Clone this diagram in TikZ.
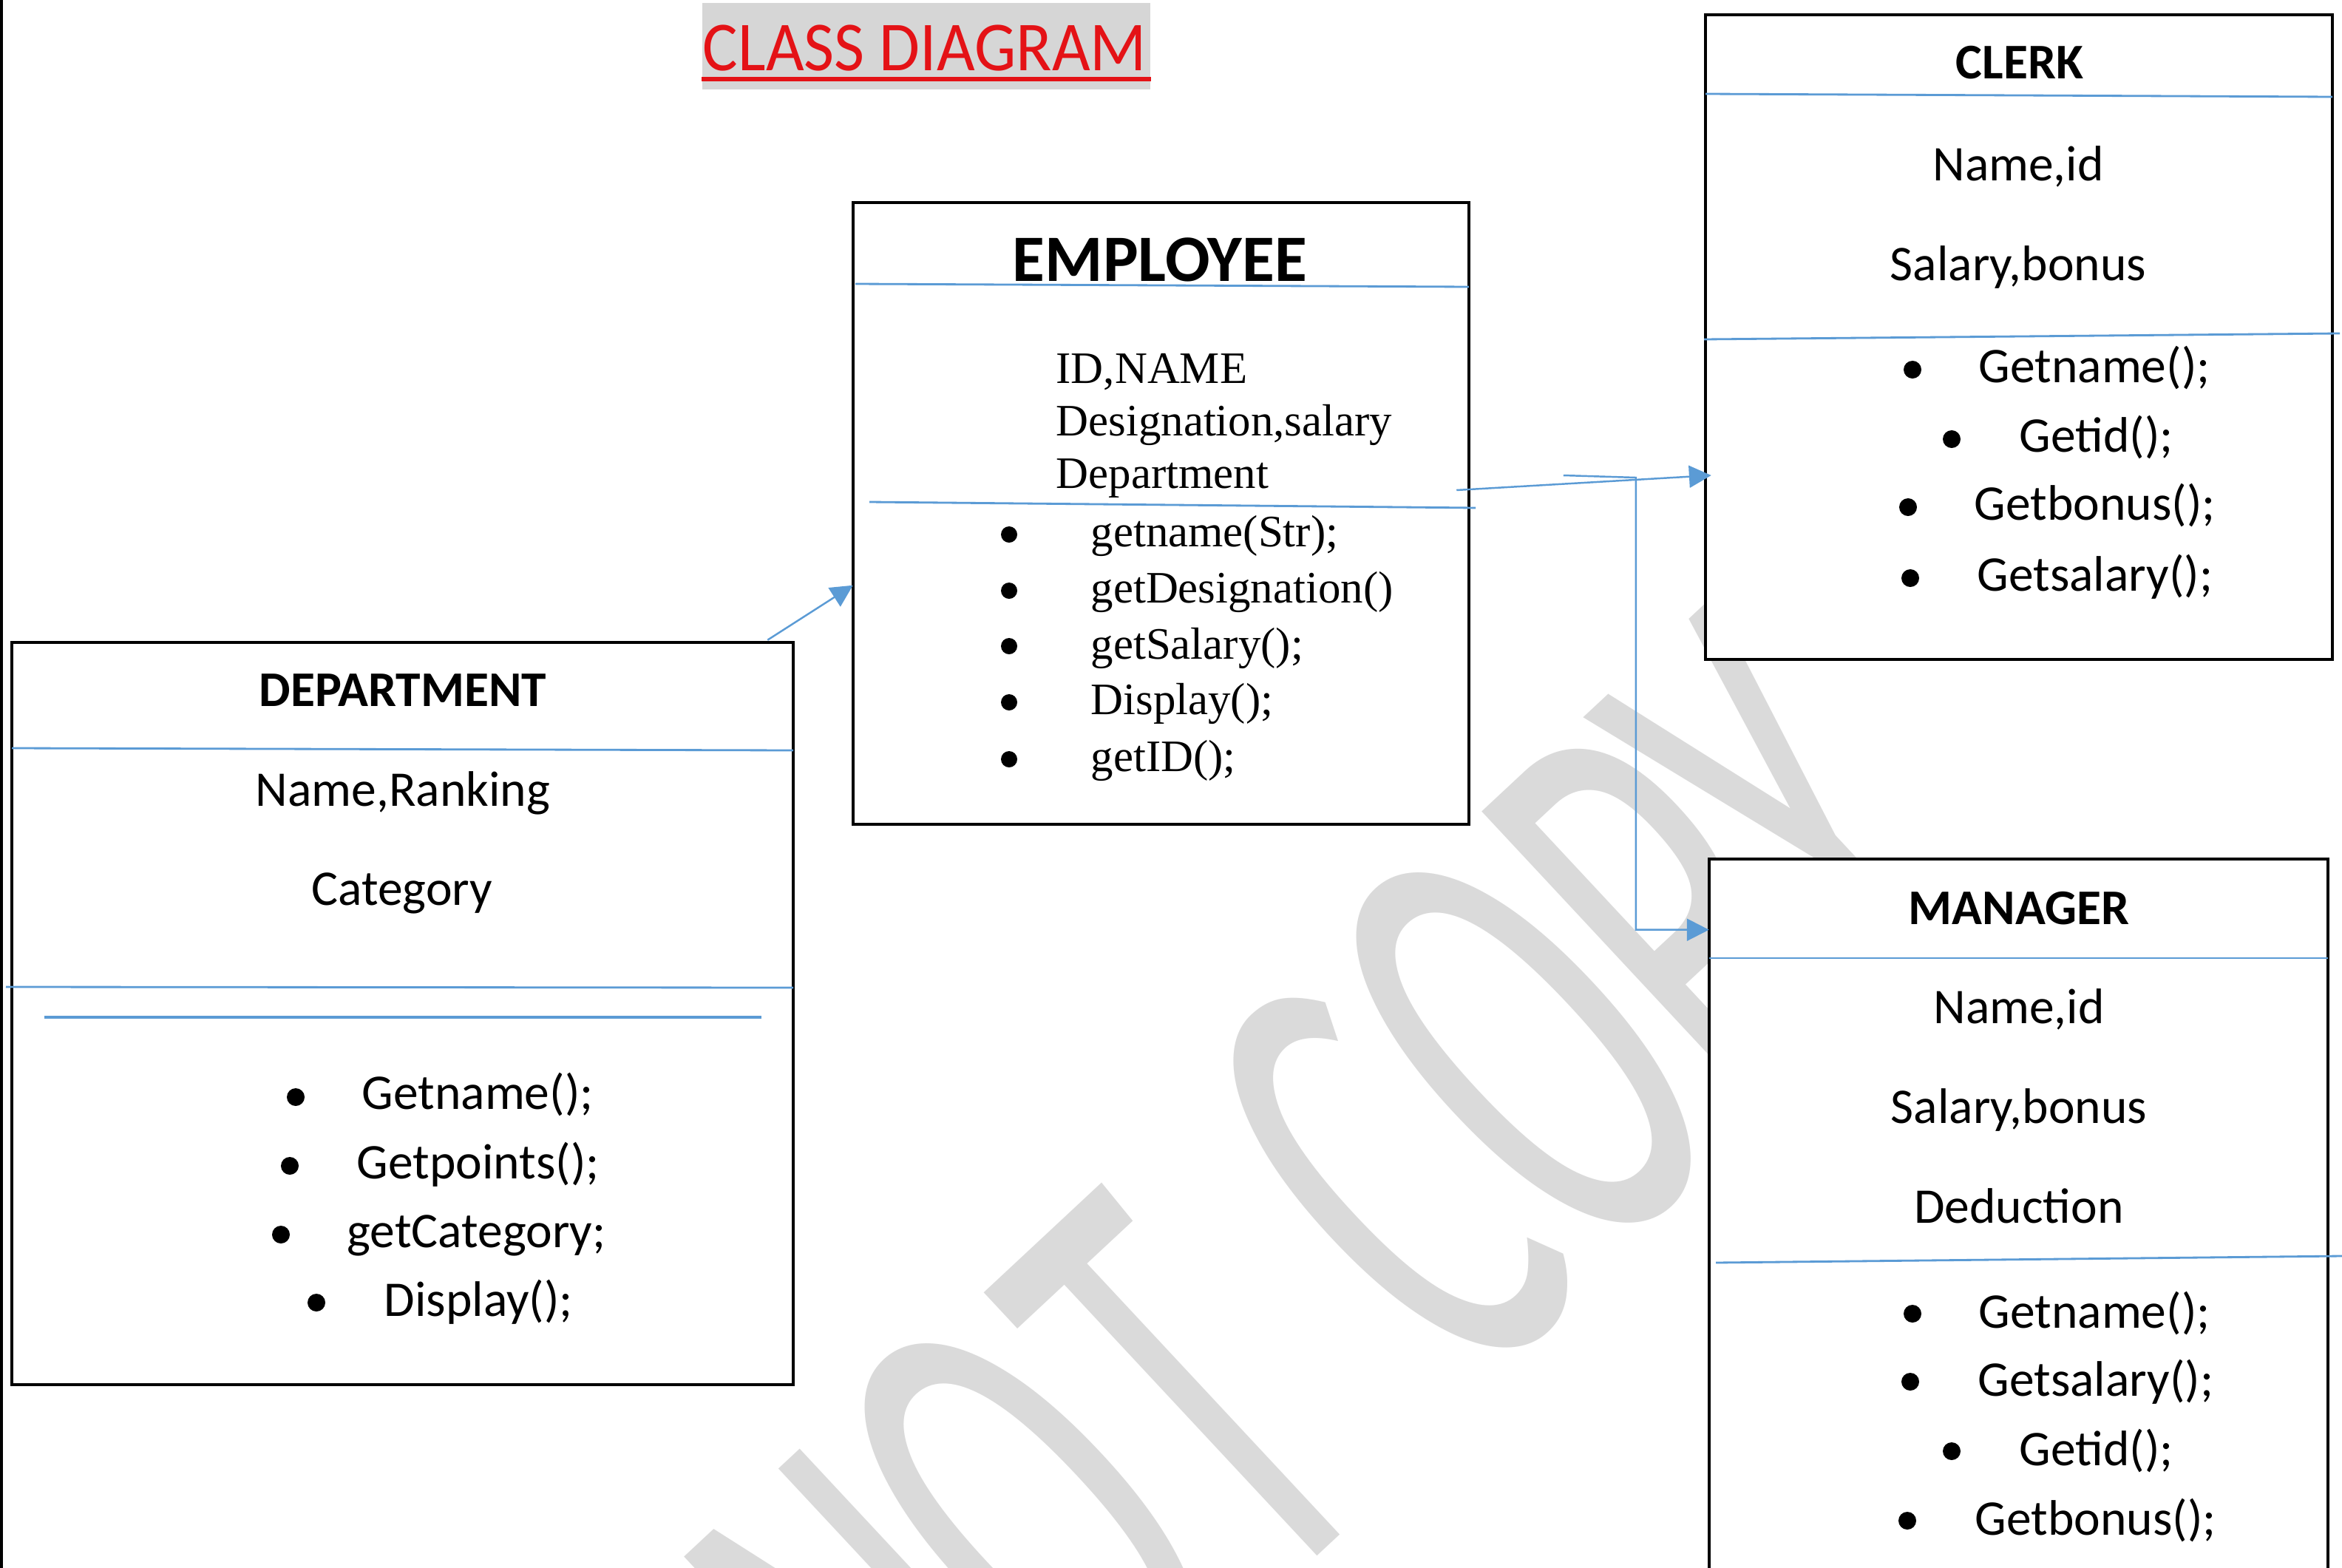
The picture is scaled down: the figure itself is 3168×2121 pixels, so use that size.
\documentclass[tikz,border=0pt]{standalone}
\usepackage{fontspec}
\usetikzlibrary{arrows.meta,calc}
\newfontfamily\calfont{Carlito}
\newfontfamily\tmsfont{Liberation Serif}
\newfontfamily\wmfont{Fira Sans}
\definecolor{sepblue}{RGB}{91,155,213}
\definecolor{wmgrey}{RGB}{218,218,218}
\definecolor{ttlred}{RGB}{228,18,22}
\definecolor{ttlbg}{RGB}{214,214,214}
\tikzset{
  cbox/.style={draw=black, line width=1.1pt, fill=white, rectangle, inner sep=0pt, outer sep=0pt},
  sepline/.style={draw=sepblue, line width=0.8pt},
  conn/.style={draw=sepblue, line width=0.7pt, -{Triangle[length=8.5pt,width=8.5pt]}},
  hdr/.style={font=\calfont\bfseries\fontsize{19.2}{23}\selectfont, anchor=base, inner sep=0pt},
  attr/.style={font=\calfont\fontsize{19.2}{23}\selectfont, anchor=base, inner sep=0pt},
  meth/.style={font=\calfont\fontsize{19.2}{23}\selectfont, anchor=base west, inner sep=0pt},
  tattr/.style={font=\tmsfont\fontsize{17.3}{20}\selectfont, anchor=base west, inner sep=0pt},
  bul/.style={fill=black, circle, inner sep=0pt, minimum size=0.24cm},
  tbul/.style={fill=black, circle, inner sep=0pt, minimum size=0.22cm},
  wml/.style={rotate=43, anchor=base, inner sep=0pt, text=wmgrey, font=\wmfont\fontsize{126}{130}\selectfont},
}
\newcommand{\wmglyph}[1]{\scalebox{1}[1.86]{#1}}
\begin{document}
\begin{tikzpicture}[x=0.01cm, y=-0.01cm]
\fill[white] (0,0) rectangle (3168,2121);
\useasboundingbox (0,0) rectangle (3168,2121);
\clip (0,0) rectangle (3168,2121);

% watermark
\node[wml] (w1) at (1391,2448) {\wmglyph{N}};
\node[wml] (w2) at (1590,2262) {\wmglyph{O}};
\node[wml] (w3) at (1797,2090) {\wmglyph{T}};
\node[wml] (w4) at (2067,1814) {\wmglyph{C}};
\node[wml] (w5) at (2255,1625) {\wmglyph{O}};
\node[wml] (w6) at (2454,1456) {\wmglyph{P}};
\node[wml] (w7) at (2617,1304) {\wmglyph{Y}};

% left page edge
\draw[line width=1.1pt] (2,0) -- (2,2121);

% title
\node[fill=ttlbg, minimum width=6.06cm, minimum height=1.17cm, inner sep=0pt] (ttlbg) at (1253,62.5) {};
\node[anchor=base, inner sep=0pt, text=ttlred, font=\calfont\fontsize{27}{30}\selectfont] (title) at (1251,95)
  {\scalebox{0.94}[1]{CLASS DIAGRAM}};
\draw[ttlred, line width=1.6pt] ($(ttlbg.west)+(0,44.5)$) -- ($(ttlbg.east)+(0,44.5)$);

% boxes
\node[cbox, minimum width=10.57cm, minimum height=10.04cm] (dept) at (544.5,1371) {};
\node[cbox, minimum width=8.33cm, minimum height=8.41cm] (emp) at (1570.5,694.5) {};
\node[cbox, minimum width=8.48cm, minimum height=8.72cm] (clerk) at (2731,456) {};
\node[cbox, minimum width=8.37cm, minimum height=10.38cm] (mgr) at (2730.5,1681) {};

% separators
\draw[sepline] (16,1012) -- (1073,1015);
\draw[sepline] (8,1335) -- (1073,1336);
\draw[sepblue, line width=1.3pt] (60,1376) -- (1030,1376);
\draw[sepline] (1157,384) -- (1987,388);
\draw[sepline] (1176,679) -- (1996,687);
\draw[sepline] (2307,127) -- (3155,131);
\draw[sepline] (2305,459) -- (3165,451);
\draw[sepline] (2312,1296) -- (3149,1296);
\draw[sepline] (2321,1708) -- (3168,1699);

% DEPARTMENT
\node[hdr] (dh) at (545,955) {DEPARTMENT};
\node[attr] (da1) at (545,1090) {Name,Ranking};
\node[attr] (da2) at (544,1224) {Category};
\node[bul] (db1) at (400,1484) {};
\node[meth] (dm1) at (489,1500) {Getname();};
\node[bul] (db2) at (392,1577) {};
\node[meth] (dm2) at (482,1594) {Getpoints();};
\node[bul] (db3) at (380,1670) {};
\node[meth] (dm3) at (469,1687) {getCategory;};
\node[bul] (db4) at (428,1762) {};
\node[meth] (dm4) at (519,1780) {Display();};

% EMPLOYEE
\node[hdr, font=\calfont\bfseries\fontsize{25.5}{30}\selectfont] (eh) at (1569,380) {EMPLOYEE};
\node[tattr] (ea1) at (1428,518) {ID,NAME};
\node[tattr] (ea2) at (1428,589) {Designation,salary};
\node[tattr] (ea3) at (1428,660) {Department};
\node[tbul] (eb1) at (1365,723) {};
\node[tattr] (em1) at (1475,739) {getname(Str);};
\node[tbul] (eb2) at (1365,799) {};
\node[tattr] (em2) at (1475,815) {getDesignation()};
\node[tbul] (eb3) at (1365,874) {};
\node[tattr] (em3) at (1475,891) {getSalary();};
\node[tbul] (eb4) at (1365,950) {};
\node[tattr] (em4) at (1475,966) {Display();};
\node[tbul] (eb5) at (1365,1027) {};
\node[tattr] (em5) at (1475,1043) {getID();};

% CLERK
\node[hdr] (ch) at (2732,106) {CLERK};
\node[attr] (ca1) at (2730,244) {Name,id};
\node[attr] (ca2) at (2730,379) {Salary,bonus};
\node[bul] (cb1) at (2587,500) {};
\node[meth] (cm1) at (2676,517) {Getname();};
\node[bul] (cb2) at (2640,594) {};
\node[meth] (cm2) at (2731,611) {Getid();};
\node[bul] (cb3) at (2581,686) {};
\node[meth] (cm3) at (2670,703) {Getbonus();};
\node[bul] (cb4) at (2584,782) {};
\node[meth] (cm4) at (2674,799) {Getsalary();};

% MANAGER
\node[hdr] (mh) at (2731,1250) {MANAGER};
\node[attr] (ma1) at (2731,1384) {Name,id};
\node[attr] (ma2) at (2731,1519) {Salary,bonus};
\node[attr] (ma3) at (2731,1654) {Deduction};
\node[bul] (mb1) at (2587,1777) {};
\node[meth] (mm1) at (2676,1796) {Getname();};
\node[bul] (mb2) at (2584,1869) {};
\node[meth] (mm2) at (2675,1888) {Getsalary();};
\node[bul] (mb3) at (2640,1963) {};
\node[meth] (mm3) at (2731,1982) {Getid();};
\node[bul] (mb4) at (2580,2057) {};
\node[meth] (mm4) at (2671,2076) {Getbonus();};

% connectors
\draw[conn] ($(dept.north east)+(-35,-3)$) -- ($(emp.north west)+(0,518)$);
\draw[conn] ($(emp.east)+(-17,-31.5)$) -- ($(clerk.west)+(8,187)$);
\draw[conn] ($(clerk.west)+(-192,187)$) -- ++(98,3) |- ($(mgr.north west)+(0,96)$);
\end{tikzpicture}
\end{document}
